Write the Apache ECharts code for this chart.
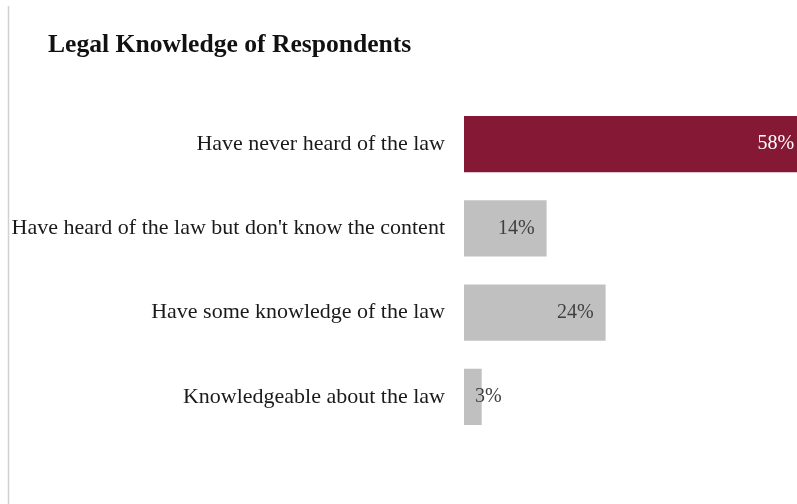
<!DOCTYPE html>
<html>
<head>
<meta charset="utf-8">
<title>Legal Knowledge of Respondents</title>
<script src="https://cdn.jsdelivr.net/npm/echarts@6/dist/echarts.min.js"></script>
<style>
  html, body { margin: 0; padding: 0; background: #ffffff; }
  #chart { width: 797px; height: 504px; }
</style>
</head>
<body>
<div id="chart"></div>
<script>
// Survey answers, listed top to bottom
const categories = [
  'Have never heard of the law',
  "Have heard of the law but don't know the content",
  'Have some knowledge of the law',
  'Knowledgeable about the law'
];
const shares = [58, 14, 24, 3];          // percent of respondents
const highlightIndex = 0;                 // the answer drawn in the accent colour

const SERIF = '"Liberation Serif", "DejaVu Serif", serif';
const ACCENT = '#851935';
const MUTED = '#c0c0c0';

const barData = shares.map((v, i) => {
  const item = {
    value: v,
    itemStyle: { color: i === highlightIndex ? ACCENT : MUTED },
    label: { color: i === highlightIndex ? '#ffffff' : '#404040' }
  };
  // too narrow for an inside-end label: start it from the bar's base instead
  if (v < 5) {
    item.label.position = 'insideLeft';
    item.label.distance = 11;
  }
  return item;
});

const chart = echarts.init(document.getElementById('chart'), null, { renderer: 'canvas' });
chart.setOption({
  animation: false,
  backgroundColor: '#ffffff',
  title: {
    text: 'Legal Knowledge of Respondents',
    left: 43,
    top: 27,
    textStyle: { fontFamily: SERIF, fontSize: 25.6, fontWeight: 'bold', color: '#111111' }
  },
  graphic: [{
    type: 'line',
    shape: { x1: 8.5, y1: 6, x2: 8.5, y2: 504 },
    style: { stroke: '#d0d0d0', lineWidth: 1.5 },
    silent: true
  }],
  // the plot runs on past the right edge of the page, so the longest bar is cut off there
  grid: {
    left: 464, width: 354, top: 102, bottom: 65,
    containLabel: false,
    outerBoundsMode: 'none'
  },
  xAxis: {
    type: 'value',
    min: 0,
    max: 60,
    show: false
  },
  yAxis: {
    type: 'category',
    data: categories,
    inverse: true,
    axisLine: { show: false },
    axisTick: { show: false },
    axisLabel: {
      margin: 19,
      fontFamily: SERIF,
      fontSize: 22,
      color: '#1a1a1a'
    }
  },
  series: [{
    type: 'bar',
    data: barData,
    barCategoryGap: '33%',
    clip: false,
    label: {
      show: true,
      position: 'insideRight',
      distance: 12,
      fontFamily: SERIF,
      fontSize: 20,
      formatter: p => p.value + '%'
    }
  }]
});
</script>
</body>
</html>
